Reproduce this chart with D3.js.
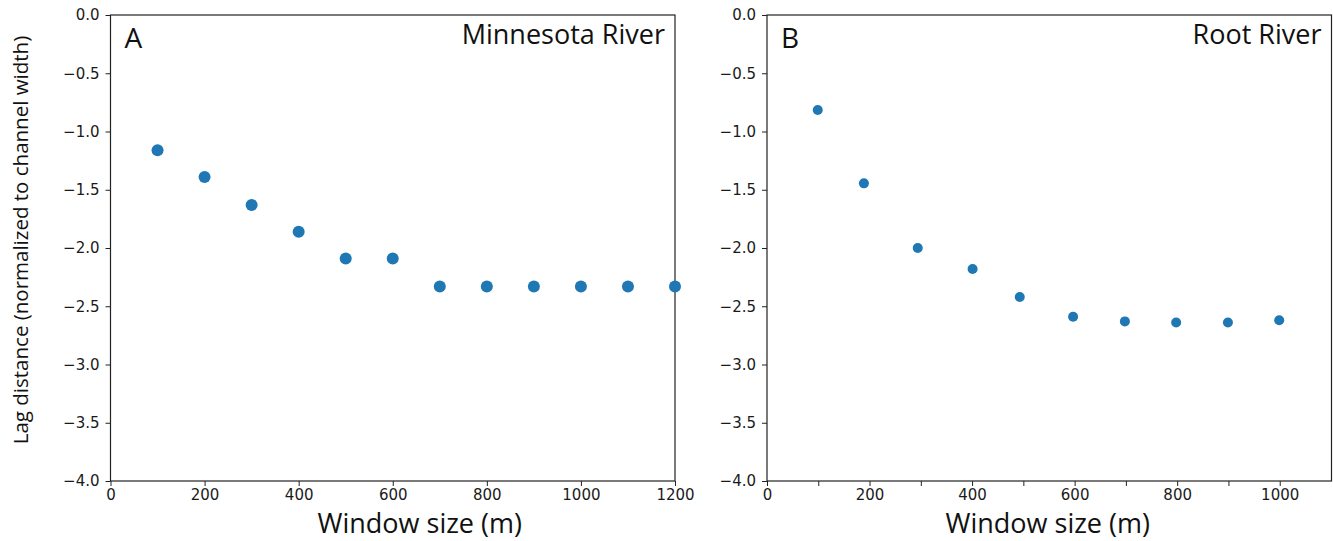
<!DOCTYPE html>
<html>
<head>
<meta charset="utf-8">
<script src="https://cdn.jsdelivr.net/npm/d3@7"></script>
<style>
  body { margin: 0; background: #fff; }
  .tick text { font-family: "DejaVu Sans", sans-serif; font-size: 15px; fill: #1a1a1a; }
  .tick line, .domain { stroke: #222; }
  .lbl { font-family: "Open Sans", sans-serif; fill: #111; }
</style>
</head>
<body>
<svg id="chart" width="1333" height="541"></svg>
<script>
// panel A: Minnesota River
var windowA = [100, 200, 300, 400, 500, 600, 700, 800, 900, 1000, 1100, 1200];
var lagA = [-1.16, -1.39, -1.63, -1.86, -2.09, -2.09, -2.33, -2.33, -2.33, -2.33, -2.33, -2.33];

// panel B: Root River
var windowB = [99, 189, 294, 401, 493, 597, 698, 798, 899, 999];
var lagB = [-0.815, -1.445, -2.0, -2.18, -2.42, -2.59, -2.63, -2.64, -2.64, -2.62];

var yTicks = [0, -0.5, -1, -1.5, -2, -2.5, -3, -3.5, -4];
var xTicksA = [0, 200, 400, 600, 800, 1000, 1200];
var xTicksB = [0, 100, 200, 300, 400, 500, 600, 700, 800, 900, 1000];

var svg = d3.select("#chart");
var color = "#1f77b4";

function drawPanel(opts) {
    var x = d3.scaleLinear().domain(opts.xDomain).range([opts.left, opts.right]);
    var y = d3.scaleLinear().domain([0, -4]).range([15, 481]);

    var g = svg.append("g");

    // y axis
    g.append("g")
        .attr("transform", "translate(" + opts.left + ",0)")
        .call(d3.axisLeft(y).tickValues(yTicks).tickSize(5).tickPadding(6)
            .tickFormat(function (d) { return d3.format(".1f")(d).replace("-", "\u2212"); }))
        .select(".domain").remove();

    // x axis
    g.append("g")
        .attr("transform", "translate(0,481)")
        .call(d3.axisBottom(x).tickValues(opts.xTicks).tickSize(5).tickPadding(3)
            .tickFormat(function (d) { return d % 200 == 0 ? d : ""; }))
        .select(".domain").remove();

    // frame
    g.append("rect")
        .attr("x", opts.left).attr("y", 15)
        .attr("width", opts.right - opts.left).attr("height", 466)
        .attr("fill", "none").attr("stroke", "#222").attr("stroke-width", 1.2);

    g.selectAll("circle").data(opts.xs).enter().append("circle")
        .attr("cx", function (d) { return x(d); })
        .attr("cy", function (d, i) { return y(opts.ys[i]); })
        .attr("r", opts.r)
        .attr("fill", color);

    g.append("text").attr("class", "lbl")
        .attr("x", opts.left + 14).attr("y", 48)
        .attr("font-size", 28)
        .text(opts.letter);

    g.append("text").attr("class", "lbl")
        .attr("x", opts.right - 10).attr("y", 44)
        .attr("text-anchor", "end")
        .attr("font-size", 27)
        .text(opts.title);

    g.append("text").attr("class", "lbl")
        .attr("x", (opts.left + opts.right) / 2 + opts.labelShift).attr("y", 533)
        .attr("text-anchor", "middle")
        .attr("font-size", 27)
        .text("Window size (m)");
}

drawPanel({left: 110.5, right: 675, xDomain: [0, 1200], xTicks: xTicksA,
    xs: windowA, ys: lagA, r: 6, letter: "A", title: "Minnesota River", labelShift: 27});
drawPanel({left: 767, right: 1331.5, xDomain: [0, 1101], xTicks: xTicksB,
    xs: windowB, ys: lagB, r: 5, letter: "B", title: "Root River", labelShift: -1.5});

svg.append("text").attr("class", "lbl")
    .attr("transform", "translate(28,240) rotate(-90)")
    .attr("text-anchor", "middle")
    .attr("font-size", 20.5)
    .text("Lag distance (normalized to channel width)");
</script>
</body>
</html>
